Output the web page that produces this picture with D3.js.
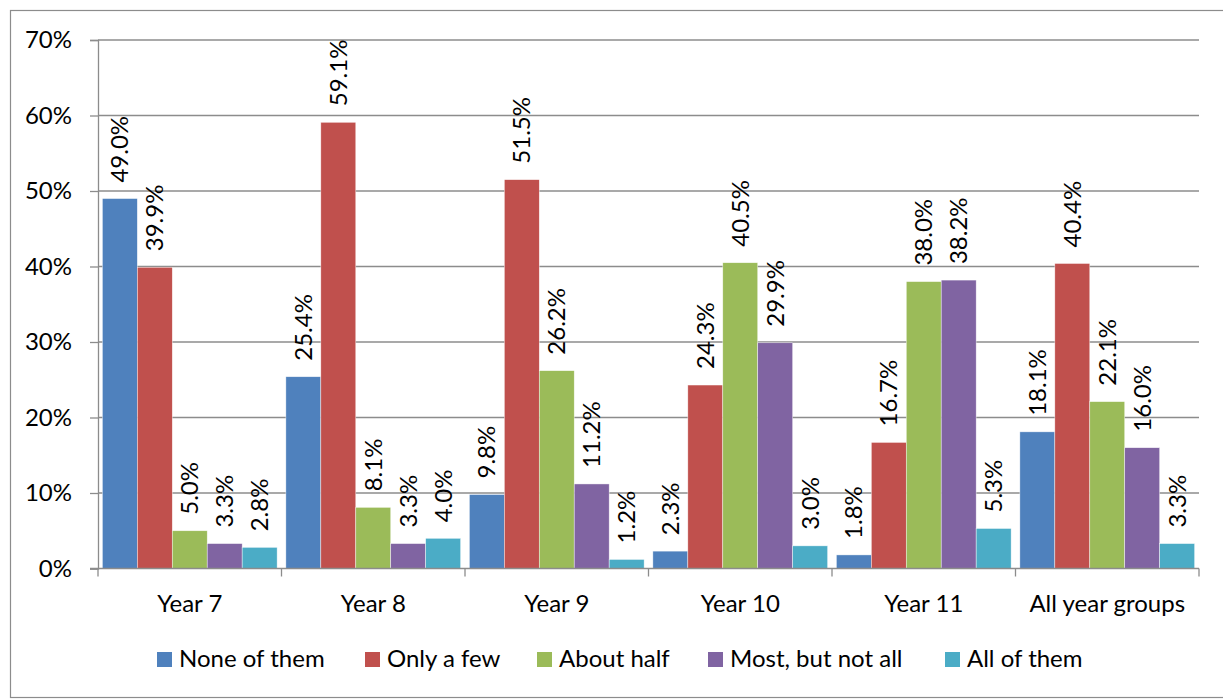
<!DOCTYPE html>
<html>
<head>
<meta charset="utf-8">
<script src="https://cdn.jsdelivr.net/npm/d3@7"></script>
<style>
  html, body { margin: 0; padding: 0; background: #fff; }
  svg { display: block; }
  text { font-family: Lato, "Open Sans", sans-serif; fill: #000; }
</style>
</head>
<body>
<svg id="chart" width="1223" height="699"></svg>
<script>
// Share of friends by year group
const categories = ["Year 7", "Year 8", "Year 9", "Year 10", "Year 11", "All year groups"];
const seriesNames = ["None of them", "Only a few", "About half", "Most, but not all", "All of them"];
const noneOfThem   = [49.0, 25.4, 9.8, 2.3, 1.8, 18.1];
const onlyAFew     = [39.9, 59.1, 51.5, 24.3, 16.7, 40.4];
const aboutHalf    = [5.0, 8.1, 26.2, 40.5, 38.0, 22.1];
const mostNotAll   = [3.3, 3.3, 11.2, 29.9, 38.2, 16.0];
const allOfThem    = [2.8, 4.0, 1.2, 3.0, 5.3, 3.3];
const yTicks = [0, 10, 20, 30, 40, 50, 60, 70];
const colors = ["#4F81BD", "#C0504D", "#9BBB59", "#8064A2", "#4BACC6"];

const seriesValues = [noneOfThem, onlyAFew, aboutHalf, mostNotAll, allOfThem];
const FONT = "Lato, 'Open Sans', sans-serif";
const FS = 24;

const svg = d3.select("#chart");

// outer frame
svg.append("rect")
  .attr("x", 10.5).attr("y", 10.5)
  .attr("width", 1230).attr("height", 687)
  .attr("fill", "none").attr("stroke", "#8c8c8c").attr("stroke-width", 1.2);

const plotLeft = 98, plotRight = 1199, plotTop = 40, plotBottom = 568.5;

const x0 = d3.scaleBand().domain(categories).range([plotLeft, plotRight]).paddingInner(0).paddingOuter(0);
const x1 = d3.scaleBand().domain(seriesNames)
  .range([0, x0.bandwidth()]).paddingInner(0).paddingOuter(0.125);
const y = d3.scaleLinear().domain([0, 70]).range([plotBottom, plotTop]);

// horizontal gridlines
svg.append("g")
  .selectAll("line")
  .data(yTicks.filter(t => t > 0))
  .join("line")
  .attr("x1", plotLeft).attr("x2", plotRight)
  .attr("y1", d => y(d)).attr("y2", d => y(d))
  .attr("stroke", "#8c8c8c").attr("stroke-width", 1.3);

// y axis
const yAxis = svg.append("g")
  .attr("transform", `translate(${plotLeft},0)`)
  .call(d3.axisLeft(y).tickValues(yTicks).tickFormat(d => d + "%").tickSize(8).tickPadding(18));
yAxis.select(".domain").attr("stroke", "#8c8c8c").attr("stroke-width", 1.3);
yAxis.selectAll(".tick line").attr("stroke", "#8c8c8c").attr("stroke-width", 1.3);
yAxis.selectAll(".tick text")
  .attr("font-size", FS).attr("font-family", FONT).attr("fill", "#000");

// bars
const groups = svg.append("g")
  .selectAll("g")
  .data(categories)
  .join("g")
  .attr("transform", d => `translate(${x0(d)},0)`);

groups.selectAll("rect")
  .data((c, ci) => seriesNames.map((s, si) => ({ s, si, v: seriesValues[si][ci] })))
  .join("rect")
  .attr("x", d => x1(d.s))
  .attr("width", x1.bandwidth())
  .attr("y", d => y(d.v))
  .attr("height", d => y(0) - y(d.v))
  .attr("fill", d => colors[d.si])
  .attr("stroke", "#ffffff").attr("stroke-width", 0.6).attr("stroke-opacity", 0.7);

// value labels, rotated
groups.selectAll("text.val")
  .data((c, ci) => seriesNames.map((s, si) => ({ s, si, v: seriesValues[si][ci] })))
  .join("text")
  .attr("class", "val")
  .attr("transform", d => `translate(${x1(d.s) + x1.bandwidth() / 2},${y(d.v) - 16}) rotate(-90)`)
  .attr("dy", "0.35em")
  .attr("text-anchor", "start")
  .attr("font-size", FS)
  .text(d => d.v.toFixed(1) + "%");

// x axis
const xAxis = svg.append("g")
  .attr("transform", `translate(0,${plotBottom})`)
  .call(d3.axisBottom(x0).tickSize(0).tickPadding(26));
xAxis.select(".domain").attr("stroke", "#8c8c8c").attr("stroke-width", 1.3)
  .attr("d", `M${plotLeft - 8},0H${plotRight}`);
xAxis.selectAll(".tick text")
  .attr("font-size", FS).attr("font-family", FONT).attr("fill", "#000");
// category separators
svg.append("g")
  .selectAll("line")
  .data(categories.map(c => x0(c)).concat([plotRight]))
  .join("line")
  .attr("x1", d => d).attr("x2", d => d)
  .attr("y1", plotBottom).attr("y2", plotBottom + 8)
  .attr("stroke", "#8c8c8c").attr("stroke-width", 1.3);

// legend
const legendX = [157, 365, 537, 708, 945];
const legend = svg.append("g")
  .selectAll("g")
  .data(seriesNames)
  .join("g")
  .attr("transform", (d, i) => `translate(${legendX[i]},652)`);
legend.append("rect")
  .attr("width", 15).attr("height", 15)
  .attr("fill", (d, i) => colors[i]);
legend.append("text")
  .attr("x", 22).attr("y", 15)
  .attr("font-size", FS)
  .text(d => d);
</script>
</body>
</html>
